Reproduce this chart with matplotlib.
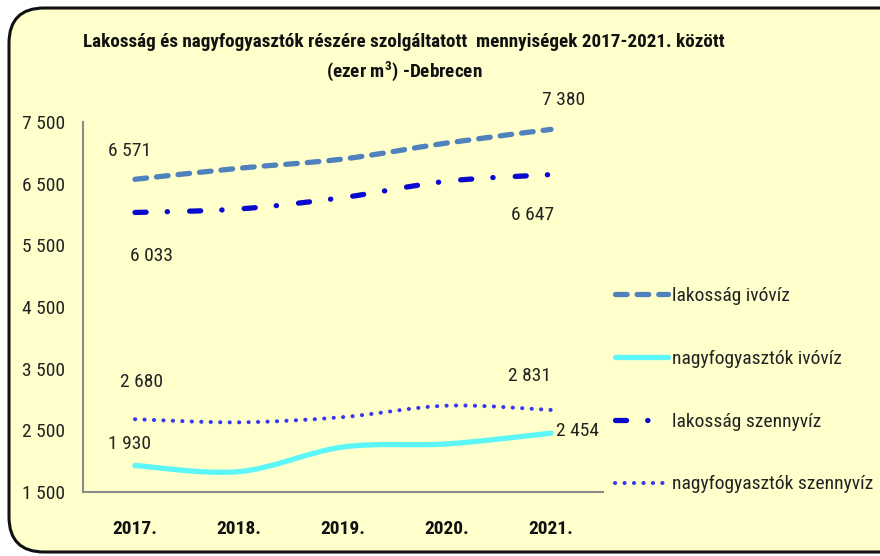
import matplotlib
matplotlib.use("Agg")
import matplotlib.pyplot as plt
from matplotlib import font_manager
from matplotlib.path import Path
from matplotlib.patches import PathPatch, FancyBboxPatch
from matplotlib.lines import Line2D

# ---------------- data ----------------
years = ["2017.", "2018.", "2019.", "2020.", "2021."]
lak_ivoviz = [6571, 6750, 6900, 7160, 7380]
nagy_ivoviz = [1930, 1830, 2230, 2280, 2454]
lak_szennyviz = [6033, 6090, 6275, 6540, 6647]
nagy_szennyviz = [2680, 2630, 2715, 2900, 2831]
series_names = ["lakosság ivóvíz", "nagyfogyasztók ivóvíz",
                "lakosság szennyvíz", "nagyfogyasztók szennyvíz"]
yticks = [1500, 2500, 3500, 4500, 5500, 6500, 7500]

# ---------------- fonts ----------------
avail = {f.name for f in font_manager.fontManager.ttflist}
font = "DejaVu Sans"
for cand in ["Liberation Sans Narrow", "Roboto Condensed", "Open Sans Condensed", "Carlito"]:
    if cand in avail:
        font = cand
        break
plt.rcParams['font.family'] = [font, 'DejaVu Sans']
plt.rcParams['mathtext.fontset'] = 'custom'
plt.rcParams['mathtext.rm'] = font
plt.rcParams['mathtext.bf'] = font + ':bold'

W, H = 880, 556
fig = plt.figure(figsize=(W / 100, H / 100), dpi=100)
fig.patch.set_facecolor("white")

# rounded background box
bg = FancyBboxPatch((9 / W, 4 / H), (W + 40) / W, (H - 8 - 4) / H,
                    boxstyle="round,pad=0,rounding_size=0.04",
                    transform=fig.transFigure, facecolor="#FFFFCC",
                    edgecolor="#111111", linewidth=2.2, zorder=-10,
                    mutation_aspect=W / H)
fig.patches.append(bg)

ax = fig.add_axes([83 / W, 1 - 492 / H, (603 - 83) / W, (492 - 122) / H])
ax.set_zorder(2)
ax.set_facecolor("none")
ax.set_xlim(-0.5, 4.5)
ax.set_ylim(1500, 7500)
for s in ["top", "right"]:
    ax.spines[s].set_visible(False)
for s in ["left", "bottom"]:
    ax.spines[s].set_color("#8C8C8C")
    ax.spines[s].set_linewidth(1.5)
ax.set_yticks(yticks)
ax.set_yticklabels([f"{v:,}".replace(",", " ") for v in yticks])
ax.set_xticks(range(len(years)))
ax.set_xticklabels(years, fontweight="bold")
ax.tick_params(axis="y", length=0, pad=13, labelsize=14, labelcolor="#222222")
ax.tick_params(axis="x", length=0, pad=20, labelsize=14, labelcolor="#111111")


def smooth_path(xs, ys):
    """Excel-like smoothed line as cubic Bezier path."""
    pts = list(zip(xs, ys))
    n = len(pts)
    verts = [pts[0]]
    codes = [Path.MOVETO]
    for i in range(n - 1):
        p0 = pts[i - 1] if i > 0 else pts[i]
        p1 = pts[i]
        p2 = pts[i + 1]
        p3 = pts[i + 2] if i + 2 < n else pts[i + 1]
        c1 = (p1[0] + (p2[0] - p0[0]) / 6, p1[1] + (p2[1] - p0[1]) / 6)
        c2 = (p2[0] - (p3[0] - p1[0]) / 6, p2[1] - (p3[1] - p1[1]) / 6)
        verts += [c1, c2, p2]
        codes += [Path.CURVE4] * 3
    return Path(verts, codes)


xs = list(range(len(years)))
styles = [
    dict(color="#4F81BD", lw=3.8, ls=(0, (2.2, 1.9)), cap="round"),
    dict(color="#5CF6F8", lw=3.8, ls="-", cap="round"),
    dict(color="#0A0ACF", lw=3.8, ls=(0, (2.1, 4.0, 0.05, 4.2)), cap="round"),
    dict(color="#3838F2", lw=2.9, ls=(0, (0.05, 2.3)), cap="round"),
]
data = [lak_ivoviz, nagy_ivoviz, lak_szennyviz, nagy_szennyviz]
handles = []
for d, st, name in zip(data, styles, series_names):
    p = PathPatch(smooth_path(xs, d), fill=False, edgecolor=st["color"],
                  linewidth=st["lw"], linestyle=st["ls"], capstyle=st["cap"],
                  joinstyle="round", zorder=3)
    ax.add_patch(p)
    handles.append(Line2D([], [], color=st["color"], lw=st["lw"],
                          linestyle=st["ls"], dash_capstyle=st["cap"],
                          solid_capstyle=st["cap"], label=name))

# data labels (first and last point)
lab_kw = dict(textcoords="offset pixels", fontsize=14, color="#222222",
              va="center")


def fmt(v):
    return f"{v:,}".replace(",", " ")


ax.annotate(fmt(lak_ivoviz[0]), (0, lak_ivoviz[0]), xytext=(-5, 28), ha="center", **lab_kw)
ax.annotate(fmt(lak_ivoviz[-1]), (4, lak_ivoviz[-1]), xytext=(13, 29), ha="center", **lab_kw)
ax.annotate(fmt(lak_szennyviz[0]), (0, lak_szennyviz[0]), xytext=(16, -44), ha="center", **lab_kw)
ax.annotate(fmt(lak_szennyviz[-1]), (4, lak_szennyviz[-1]), xytext=(-18, -40), ha="center", **lab_kw)
ax.annotate(fmt(nagy_szennyviz[0]), (0, nagy_szennyviz[0]), xytext=(6, 37), ha="center", **lab_kw)
ax.annotate(fmt(nagy_szennyviz[-1]), (4, nagy_szennyviz[-1]), xytext=(-22, 34), ha="center", **lab_kw)
ax.annotate(fmt(nagy_ivoviz[0]), (0, nagy_ivoviz[0]), xytext=(-6, 21), ha="center", **lab_kw)
ax.annotate(fmt(nagy_ivoviz[-1]), (4, nagy_ivoviz[-1]), xytext=(5, 2), ha="left", **lab_kw)

# legend
leg = fig.legend(handles=handles, loc="upper left",
                 bbox_to_anchor=(615 / W, 1 - 287 / H), frameon=False,
                 borderpad=0, borderaxespad=0,
                 fontsize=14, handlelength=2.75, handletextpad=0.2,
                 labelspacing=2.3, labelcolor="#222222")

# title
fig.text(404 / W, 1 - 42 / H,
         "Lakosság és nagyfogyasztók részére szolgáltatott  mennyiségek 2017-2021. között",
         ha="center", va="center", fontsize=13.8, fontweight="bold", color="#111111")
fig.text(404 / W, 1 - 72 / H, r"(ezer m$^\mathbf{3}$) -Debrecen",
         ha="center", va="center", fontsize=13.8, fontweight="bold", color="#111111")

fig.savefig("out.png", dpi=100, facecolor=fig.get_facecolor())
